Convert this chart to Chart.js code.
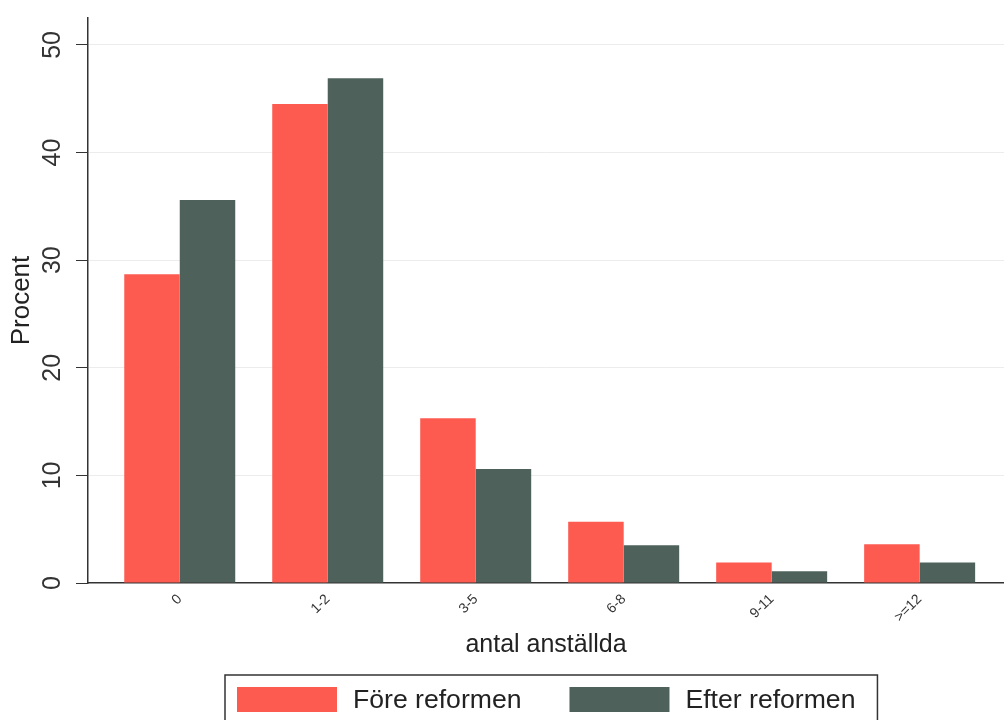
<!DOCTYPE html>
<html>
<head>
<meta charset="utf-8">
<script src="https://cdn.jsdelivr.net/npm/chart.js@4"></script>
<style>
  html, body { margin: 0; padding: 0; background: #ffffff; }
  #wrap { width: 1004px; height: 720px; position: relative; }
</style>
</head>
<body>
<div id="wrap"><canvas id="c" width="1004" height="720"></canvas></div>
<script>
const categories = ['0', '1-2', '3-5', '6-8', '9-11', '>=12'];
const foreReformen = [28.7, 44.5, 15.3, 5.7, 1.9, 3.6];
const efterReformen = [35.6, 46.9, 10.6, 3.5, 1.1, 1.9];
const seriesNames = ['Före reformen', 'Efter reformen'];
const yTicks = [0, 10, 20, 30, 40, 50];
const xTitle = 'antal anställda';
const yTitle = 'Procent';

const RED = '#fd5a50';
const DARK = '#4e625b';
const FONT = "'Liberation Sans', Arial, sans-serif";

const legendBox = {
  id: 'legendBox',
  afterDraw(chart) {
    const ctx = chart.ctx;
    ctx.save();
    ctx.font = '26.6px ' + FONT;
    const ds = chart.data.datasets;
    let x = 237;
    const boxW = 100, boxH = 25, top = 687;
    const parts = [];
    ds.forEach((d, i) => {
      parts.push({ x, color: d.backgroundColor, label: d.label });
      x += boxW + 16;
      const w = ctx.measureText(d.label).width;
      parts[i].tx = x;
      x += w + (i < ds.length - 1 ? 48 : 0);
    });
    const right = x + 22;
    ctx.strokeStyle = '#333';
    ctx.lineWidth = 1.5;
    ctx.strokeRect(225, 675, right - 225, 60);
    parts.forEach(p => {
      ctx.fillStyle = p.color;
      ctx.fillRect(p.x, top, boxW, boxH);
      ctx.fillStyle = '#222';
      ctx.textBaseline = 'middle';
      ctx.textAlign = 'left';
      ctx.fillText(p.label, p.tx, top + boxH / 2 + 1);
    });
    ctx.restore();
  }
};

new Chart(document.getElementById('c'), {
  type: 'bar',
  data: {
    labels: categories.map((_, i) => i),
    datasets: [
      { label: seriesNames[0], data: foreReformen, backgroundColor: RED, borderWidth: 0 },
      { label: seriesNames[1], data: efterReformen, backgroundColor: DARK, borderWidth: 0 }
    ]
  },
  options: {
    responsive: false,
    animation: false,
    layout: { padding: { left: 0, right: 0, top: 18, bottom: 0 } },
    datasets: { bar: { categoryPercentage: 0.75, barPercentage: 1.0 } },
    plugins: {
      legend: { display: false },
      tooltip: { enabled: false }
    },
    scales: {
      x: {
        type: 'linear',
        offset: false,
        min: -0.62,
        max: 5.57,
        afterFit(s) { s.height = 137; s.paddingLeft = 0; s.paddingRight = 0; },
        afterBuildTicks(s) { s.ticks = categories.map((_, i) => ({ value: i })); },
        ticks: {
          stepSize: 1,
          includeBounds: false,
          autoSkip: false,
          minRotation: 45,
          maxRotation: 45,
          padding: 8,
          color: '#333',
          font: { family: FONT, size: 14 },
          callback: (v) => categories[v]
        },
        grid: { display: false, drawTicks: false, offset: false },
        border: { display: true, color: '#333', width: 1.5 },
        title: {
          display: true,
          text: xTitle,
          color: '#222',
          font: { family: FONT, size: 25 },
          padding: { top: 4, bottom: 60 }
        }
      },
      y: {
        min: 0,
        max: 52.5,
        afterFit(s) { s.width = 88; s.paddingTop = 0; s.paddingBottom = 0; },
        afterBuildTicks(s) { s.ticks = yTicks.map(v => ({ value: v })); },
        ticks: {
          stepSize: 10,
          includeBounds: false,
          minRotation: 90,
          maxRotation: 90,
          crossAlign: 'center',
          padding: 9,
          color: '#333',
          font: { family: FONT, size: 25 }
        },
        grid: {
          color: (c) => c.tick && c.tick.value === 0 ? 'rgba(0,0,0,0)' : '#ececec',
          tickColor: '#333',
          tickLength: 12,
          lineWidth: 1
        },
        border: { display: true, color: '#333', width: 1.5 },
        title: {
          display: true,
          text: yTitle,
          color: '#222',
          font: { family: FONT, size: 26 },
          padding: { top: 6, bottom: 4 }
        }
      }
    }
  },
  plugins: [legendBox]
});
</script>
</body>
</html>
